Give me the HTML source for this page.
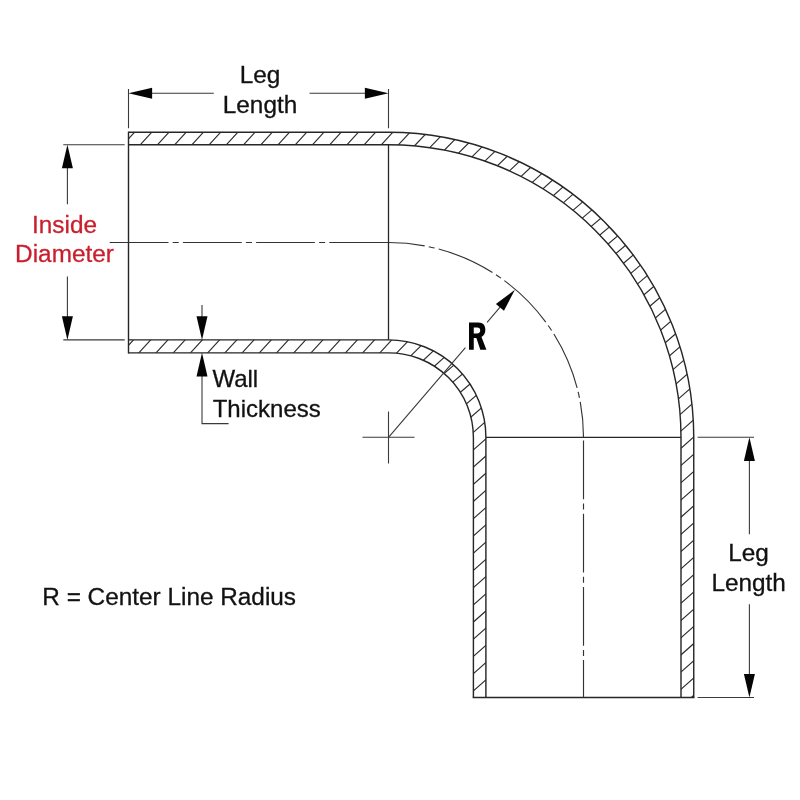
<!DOCTYPE html>
<html><head><meta charset="utf-8"><title>Elbow dimensions</title>
<style>html,body{margin:0;padding:0;background:#fff;}body{width:800px;height:800px;overflow:hidden;font-family:"Liberation Sans",sans-serif;}svg{display:block;will-change:transform}</style>
</head><body>
<svg width="800" height="800" viewBox="0 0 800 800">
<rect width="800" height="800" fill="#fff"/>
<defs>
<clipPath id="w1"><path d="M128.5,132.3 H388.5 A305.25,305.00 0 0 1 693.75,437.3 V697.5 H681.0 V437.3 A292.50,292.60 0 0 0 388.5,144.7 H128.5 Z"/></clipPath>
<clipPath id="w2"><path d="M128.5,339.9 H388.5 A97.40,97.40 0 0 1 485.9,437.3 V697.5 H473.4 V437.3 A84.90,84.45 0 0 0 388.5,352.85 H128.5 Z"/></clipPath>
</defs>
<g stroke="#2e2e2e" stroke-width="1.15" fill="none">
<path clip-path="url(#w1)" d="M117.97,150.30 L139.59,126.70 M135.19,150.30 L156.81,126.70 M152.41,150.30 L174.03,126.70 M169.63,150.30 L191.25,126.70 M186.85,150.30 L208.47,126.70 M204.07,150.30 L225.69,126.70 M221.29,150.30 L242.91,126.70 M238.51,150.30 L260.13,126.70 M255.73,150.30 L277.35,126.70 M272.95,150.30 L294.57,126.70 M290.17,150.30 L311.79,126.70 M307.39,150.30 L329.01,126.70 M324.61,150.30 L346.23,126.70 M341.83,150.30 L363.45,126.70 M359.05,150.30 L380.67,126.70 M376.27,150.30 L397.89,126.70 M392.99,150.60 L414.81,127.19 M408.86,151.76 L430.88,128.55 M423.97,153.66 L446.20,130.64 M438.43,156.24 L460.85,133.40 M452.30,159.41 L474.89,136.76 M465.61,163.14 L488.39,140.66 M478.43,167.38 L501.37,145.07 M490.77,172.09 L513.88,149.95 M502.67,177.24 L525.94,155.28 M514.14,182.82 L537.57,161.02 M525.21,188.81 L548.79,167.18 M535.90,195.19 L559.63,173.72 M546.20,201.95 L570.08,180.65 M556.14,209.08 L580.17,187.94 M565.72,216.56 L589.89,195.59 M574.94,224.41 L599.25,203.60 M583.81,232.60 L608.26,211.96 M592.40,241.23 L616.90,220.65 M600.69,250.28 L625.16,229.66 M608.63,259.69 L633.07,239.03 M616.20,269.45 L640.62,248.76 M623.41,279.58 L647.80,258.86 M630.25,290.09 L654.61,269.33 M636.70,300.98 L661.03,280.19 M642.76,312.27 L667.05,291.44 M648.40,323.97 L672.67,303.11 M653.61,336.11 L677.85,315.21 M658.37,348.70 L682.57,327.77 M662.64,361.78 L686.81,340.82 M666.40,375.39 L690.53,354.38 M669.59,389.56 L693.69,368.51 M672.16,404.35 L696.23,383.27 M674.04,419.84 L698.07,398.71 M675.15,436.12 L699.14,414.95 M675.39,453.21 L699.36,432.00 M675.39,470.43 L699.36,449.22 M675.39,487.65 L699.36,466.44 M675.39,504.87 L699.36,483.66 M675.39,522.09 L699.36,500.88 M675.39,539.31 L699.36,518.10 M675.39,556.53 L699.36,535.32 M675.39,573.75 L699.36,552.54 M675.39,590.97 L699.36,569.76 M675.39,608.19 L699.36,586.98 M675.39,625.41 L699.36,604.20 M675.39,642.63 L699.36,621.42 M675.39,659.85 L699.36,638.64 M675.39,677.07 L699.36,655.86 M675.39,694.29 L699.36,673.08 M675.39,711.51 L699.36,690.30"/>
<path clip-path="url(#w2)" d="M116.74,358.17 L138.35,334.58 M133.96,358.17 L155.57,334.58 M151.18,358.17 L172.79,334.58 M168.40,358.17 L190.01,334.58 M185.62,358.17 L207.23,334.58 M202.84,358.17 L224.45,334.58 M220.06,358.17 L241.67,334.58 M237.28,358.17 L258.89,334.58 M254.50,358.17 L276.11,334.58 M271.72,358.17 L293.33,334.58 M288.94,358.17 L310.55,334.58 M306.16,358.17 L327.77,334.58 M323.38,358.17 L344.99,334.58 M340.60,358.17 L362.21,334.58 M357.82,358.17 L379.43,334.58 M375.04,358.17 L396.65,334.58 M390.95,358.91 L413.15,335.86 M404.64,361.85 L427.44,339.40 M416.69,366.48 L440.02,344.58 M427.38,372.48 L451.21,351.13 M436.86,379.71 L461.17,358.90 M445.44,388.40 L469.90,367.77 M453.02,398.55 L477.39,377.81 M459.31,410.02 L483.57,389.16 M464.11,422.99 L488.27,402.01 M467.07,437.86 L491.12,416.74 M467.67,454.89 L491.63,433.69 M467.67,472.11 L491.63,450.91 M467.67,489.33 L491.63,468.13 M467.67,506.55 L491.63,485.35 M467.67,523.77 L491.63,502.57 M467.67,540.99 L491.63,519.79 M467.67,558.21 L491.63,537.01 M467.67,575.43 L491.63,554.23 M467.67,592.65 L491.63,571.45 M467.67,609.87 L491.63,588.67 M467.67,627.09 L491.63,605.89 M467.67,644.31 L491.63,623.11 M467.67,661.53 L491.63,640.33 M467.67,678.75 L491.63,657.55 M467.67,695.97 L491.63,674.77 M467.67,713.19 L491.63,691.99"/>
</g>
<g fill="none" stroke="#262626" stroke-width="1.42">
<path d="M128.5,132.3 H388.5 A305.25,305.00 0 0 1 693.75,437.3 V697.5"/>
<path d="M128.5,144.7 H388.5 A292.50,292.60 0 0 1 681.0,437.3 V697.5"/>
<path d="M128.5,339.9 H388.5 A97.40,97.40 0 0 1 485.9,437.3 V697.5"/>
<path d="M128.5,352.85 H388.5 A84.90,84.45 0 0 1 473.4,437.3 V697.5"/>
<path d="M128.5,131.60000000000002 V353.55"/>
<path d="M472.7,697.5 H694.45"/>
<path d="M388.5,144.7 V339.9" stroke-width="1.3"/>
<path d="M485.9,437.3 H681.0" stroke-width="1.3"/>
</g>
<g fill="none" stroke="#333" stroke-width="1.15" stroke-dasharray="58.8 4.2 6 4.2">
<path d="M109.7,242.5 H388.5"/>
<path d="M388.5,242.5 A195.00,194.80 0 0 1 583.5,437.3" stroke-dashoffset="22.4"/>
<path d="M583.5,437.3 V697.5" stroke-dashoffset="70"/>
</g>
<g fill="none" stroke="#3a3a3a" stroke-width="1.1">
<path d="M362.5,437.3 H414.5 M388.5,411.5 V463.5"/>
<path d="M128.5,89 V128.3 M388.5,89 V128.3"/>
<path d="M150,93.2 H213.8 M309.5,93.2 H367"/>
<path d="M697.6,437.3 H754 M697.6,697.5 H754"/>
<path d="M749.4,458 V534.2 M749.4,604.2 V676"/>
<path d="M63.3,144.7 H124.7 M63.3,339.9 H124.7"/>
<path d="M67.4,166 V204.3 M67.4,276.6 V318"/>
<path d="M202,305 V318 M202,374 V423.6 H228.6"/>
<path d="M388.5,437.3 L465.4,347.6 M487.1,322.3 L500.5,306.7"/>
</g>
<g fill="#050505" stroke="none">
<path d="M128.50,93.20 L152.10,87.70 L152.10,98.70 Z"/>
<path d="M388.50,93.20 L364.90,98.70 L364.90,87.70 Z"/>
<path d="M749.40,437.30 L754.90,460.90 L743.90,460.90 Z"/>
<path d="M749.40,697.50 L743.90,673.90 L754.90,673.90 Z"/>
<path d="M67.40,144.70 L72.90,168.30 L61.90,168.30 Z"/>
<path d="M67.40,339.90 L61.90,316.30 L72.90,316.30 Z"/>
<path d="M202.00,339.90 L196.50,316.30 L207.50,316.30 Z"/>
<path d="M202.00,352.85 L207.50,376.45 L196.50,376.45 Z"/>
<path d="M514.91,289.87 L503.96,310.78 L495.91,303.88 Z"/>
<path fill-rule="evenodd" d="M469,322.5 H478.3 C483.4,322.5 485.35,325.6 485.35,329.8 C485.35,333.5 483.8,335.8 481.5,336.9 L486.4,349.75 H480.3 L476.4,337.9 H473.75 V349.75 H469 Z M473.75,327.6 V333.4 H477.1 C479.3,333.4 480.2,332.2 480.2,330.5 C480.2,328.8 479.3,327.6 477.1,327.6 Z"/>
</g>
<g font-family="'Liberation Sans', sans-serif" font-size="24.35" fill="#111111" stroke="#111111" stroke-width="0.3" paint-order="stroke">
<text x="260" y="83.4" text-anchor="middle">Leg</text>
<text x="260" y="112.7" text-anchor="middle">Length</text>
<text x="748.5" y="561.2" text-anchor="middle">Leg</text>
<text x="748.7" y="590.5" text-anchor="middle">Length</text>
<text x="64.5" y="233.3" text-anchor="middle" fill="#c91e2d" stroke="#c91e2d">Inside</text>
<text x="64.5" y="262.3" text-anchor="middle" fill="#c91e2d" stroke="#c91e2d">Diameter</text>
<text x="212.4" y="387.4" font-size="24">Wall</text>
<text x="212.7" y="417" font-size="24">Thickness</text>
<text x="42.3" y="604.6">R = Center Line Radius</text>
</g>
</svg>
</body></html>
